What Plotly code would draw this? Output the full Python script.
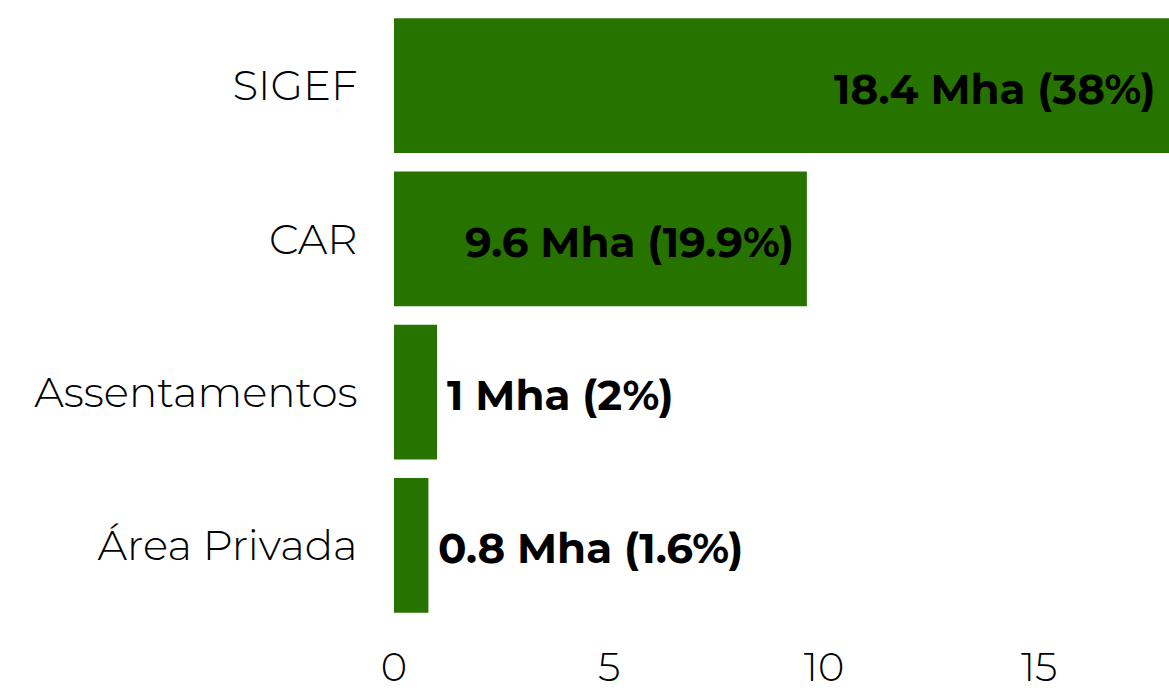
import plotly.graph_objects as go

# Land-registry coverage by source (million hectares and share of total)
categories = ["SIGEF", "CAR", "Assentamentos", "Área Privada"]
area_mha = [18.4, 9.6, 1.0, 0.8]
share_pct = ["38%", "19.9%", "2%", "1.6%"]
tick_values = [0, 5, 10, 15]

X_MAX = 18.02
INSIDE_MIN = 5  # bars longer than this carry their label inside

labels = [f"{v:g} Mha ({p})" for v, p in zip(area_mha, share_pct)]

FONT = "Montserrat, 'Open Sans', Lato, sans-serif"
LABEL_FONT = dict(family=FONT, size=42, color="black", weight=700)
AXIS_FONT = dict(family=FONT, size=42, color="black", weight=300)
XTICK_FONT = dict(family=FONT, size=40, color="black", weight=300)

fig = go.Figure(
    go.Bar(
        x=area_mha,
        y=categories,
        orientation="h",
        marker=dict(color="#267300", line=dict(width=0)),
        hovertext=labels,
        hoverinfo="text",
        cliponaxis=True,
    )
)

# Value labels: right-aligned inside long bars (kept within the visible range),
# left-aligned just past the end of short bars.
for cat, val, lab in zip(categories, area_mha, labels):
    inside = val > INSIDE_MIN
    fig.add_annotation(
        x=min(val, X_MAX),
        y=cat,
        text=lab,
        showarrow=False,
        xanchor="right" if inside else "left",
        xshift=-11 if inside else 8,
        yshift=-3,
        yanchor="middle",
        font=LABEL_FONT,
    )

fig.update_layout(
    width=1169,
    height=695,
    margin=dict(l=394, r=0, t=9, b=73),
    paper_bgcolor="white",
    plot_bgcolor="white",
    bargap=0.12,
    showlegend=False,
    font=dict(family=FONT, color="black"),
)

fig.update_xaxes(
    range=[0, X_MAX],
    tickvals=tick_values,
    showgrid=False,
    zeroline=False,
    showline=False,
    ticks="outside",
    ticklen=0,
    ticklabelstandoff=10,
    automargin=False,
    tickfont=XTICK_FONT,
)

fig.update_yaxes(
    autorange="reversed",
    showgrid=False,
    zeroline=False,
    showline=False,
    ticks="outside",
    ticklen=0,
    ticklabelstandoff=27,
    automargin=False,
    tickfont=AXIS_FONT,
)

fig.write_html("out.html")
